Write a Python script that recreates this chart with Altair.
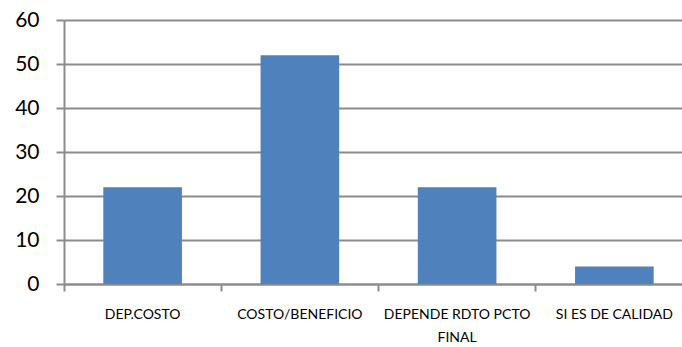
import altair as alt
import pandas as pd

categorias = ["DEP.COSTO", "COSTO/BENEFICIO", "DEPENDE RDTO PCTO FINAL", "SI ES DE CALIDAD"]
valores = [22, 52, 22, 4]

df = pd.DataFrame({"categoria": categorias, "valor": valores})

FONT = "Lato"
GRIS = "#8c8c8c"

x_scale = alt.Scale(domain=categorias, range=[0, 629], paddingInner=0, paddingOuter=0)

y_enc = alt.Y(
    "valor:Q",
    scale=alt.Scale(domain=[0, 60], nice=False),
    axis=alt.Axis(
        title=None,
        values=[0, 10, 20, 30, 40, 50, 60],
        grid=True,
        gridColor=GRIS,
        gridWidth=2,
        domain=True,
        domainColor=GRIS,
        domainWidth=2,
        ticks=True,
        tickColor=GRIS,
        tickWidth=2,
        tickSize=8,
        labelFont=FONT,
        labelFontSize=21,
        labelColor="#000000",
        labelPadding=17,
    ),
)

base = alt.Chart(df)

barras = base.mark_bar(color="#4F81BD", width=alt.RelativeBandSize(0.5)).encode(
    x=alt.X(
        "categoria:N",
        scale=x_scale,
        sort=categorias,
        axis=alt.Axis(
            title=None,
            orient="bottom",
            labelAngle=0,
            ticks=False,
            domain=True,
            domainColor=GRIS,
            domainWidth=2,
            labelFont=FONT,
            labelFontSize=14,
            labelColor="#000000",
            labelPadding=23,
            labelLineHeight=23,
            labelLimit=300,
            labelExpr="datum.label == 'DEPENDE RDTO PCTO FINAL' ? ['DEPENDE RDTO PCTO', 'FINAL'] : datum.label",
        ),
    ),
    y=y_enc,
)

# Category boundary ticks on a second bottom axis
marcas = base.mark_bar(opacity=0).encode(
    x=alt.X(
        "categoria:N",
        scale=x_scale,
        sort=categorias,
        axis=alt.Axis(
            title=None,
            orient="bottom",
            labels=False,
            domain=False,
            ticks=True,
            tickColor=GRIS,
            tickWidth=2,
            tickSize=7,
            bandPosition=0,
        ),
    ),
    y=y_enc,
)

chart = (
    alt.layer(barras, marcas)
    .resolve_axis(x="independent")
    .properties(
        width=618,
        height=264,
        autosize=alt.AutoSizeParams(type="none"),
        padding={"left": 64, "top": 20, "right": 0, "bottom": 63},
    )
    .configure_view(stroke=None)
    .configure(background="#ffffff")
)

chart.save("out.html", embed_options={"renderer": "svg", "actions": False})
